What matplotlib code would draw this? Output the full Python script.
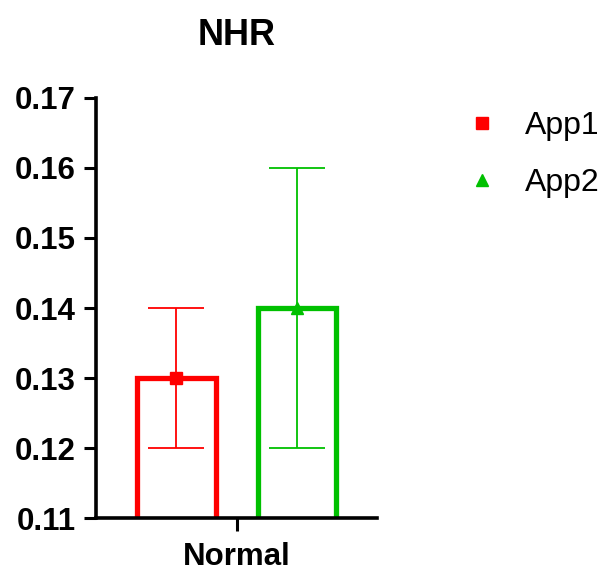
import matplotlib.pyplot as plt

plt.rcParams["font.family"] = ["Liberation Sans", "DejaVu Sans"]

groups = ["App1", "App2"]
category = "Normal"
means = [0.13, 0.14]
lower = [0.12, 0.12]
upper = [0.14, 0.16]
colors = ["#FF0000", "#00C000"]
markers = ["s", "^"]
offsets = [-0.43, 0.43]

fig = plt.figure(figsize=(6.09, 5.72), dpi=100)
ax = fig.add_axes([0.158, 0.094, 0.461, 0.735])

handles = []
for i, g in enumerate(groups):
    x = offsets[i]
    ax.bar(x, means[i], width=0.56, fill=False, edgecolor=colors[i], linewidth=3.8, zorder=2)
    ax.errorbar(x, means[i], yerr=[[means[i] - lower[i]], [upper[i] - means[i]]],
                fmt="none", ecolor=colors[i], elinewidth=1.3, capsize=20, capthick=1.3, zorder=3)
    h, = ax.plot([x], [means[i]], linestyle="none", marker=markers[i], color=colors[i],
                 markersize=8, label=g, zorder=4)
    handles.append(h)

ax.set_xlim(-1, 1)
ax.set_ylim(0.11, 0.17)
ax.set_yticks([0.11, 0.12, 0.13, 0.14, 0.15, 0.16, 0.17])
ax.set_yticklabels([f"{v:.2f}" for v in ax.get_yticks()], fontsize=22.5, fontweight="bold")
ax.set_xticks([0])
ax.set_xticklabels([category], fontsize=22.5, fontweight="bold")
ax.tick_params(axis="y", length=9, width=2.2, direction="out", pad=6)
ax.tick_params(axis="x", length=9, width=2.2, direction="out", pad=8)
for s in ["top", "right"]:
    ax.spines[s].set_visible(False)
for s in ["left", "bottom"]:
    ax.spines[s].set_linewidth(2.6)

ax.set_title("NHR", fontsize=26, fontweight="bold", pad=38)

fig.legend(handles=handles, loc="upper left", bbox_to_anchor=(0.765, 0.806), frameon=False,
           fontsize=23, handlelength=1.0, handletextpad=0.85, labelspacing=0.85,
           borderpad=0, borderaxespad=0, markerscale=1.1)

fig.savefig("out.png", dpi=100)
